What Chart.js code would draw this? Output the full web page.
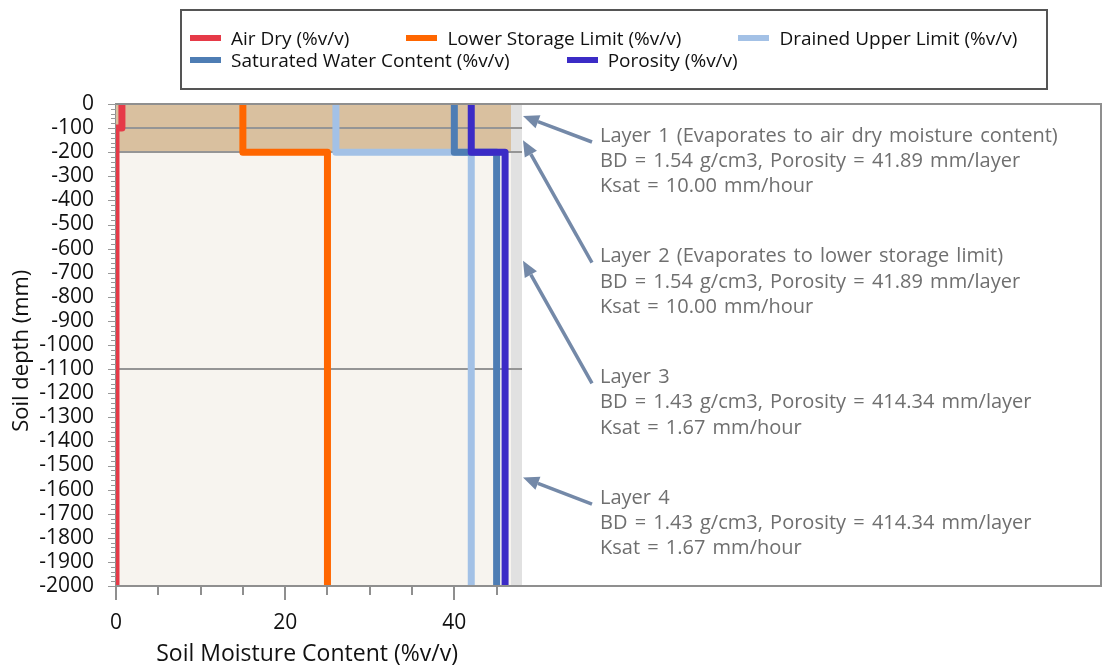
<!DOCTYPE html>
<html><head><meta charset="utf-8">
<script src="https://cdn.jsdelivr.net/npm/chart.js@4"></script>
<style>
html,body{margin:0;padding:0;background:#fff;}
#wrap{position:relative;width:1106px;height:669px;overflow:hidden;}
#c{position:absolute;left:0;top:0;}
#legend{position:absolute;left:180px;top:9px;width:856px;height:61px;border:2px solid #555;
  font-family:'Open Sans',sans-serif;font-size:19px;color:#111;display:flex;flex-wrap:wrap;
  align-content:flex-start;column-gap:57px;padding:16px 0 0 8px;box-sizing:content-box;}
.item{display:flex;align-items:center;height:22px;white-space:nowrap;}
.sw{width:31px;height:6px;margin-right:10px;}
</style></head>
<body><div id="wrap"><canvas id="c" width="1106" height="669"></canvas><div id="legend"></div></div>
<script>
// ---- data ----
const depthBounds = [0, -100, -200, -1100, -2000];           // layer boundaries (mm)
const seriesNames = ['Air Dry (%v/v)', 'Lower Storage Limit (%v/v)', 'Drained Upper Limit (%v/v)',
                     'Saturated Water Content (%v/v)', 'Porosity (%v/v)'];
const airDry       = [0.7, 0, 0, 0];
const lowerStorage = [15, 15, 25, 25];
const drainedUpper = [26, 26, 42, 42];
const saturated    = [40, 40, 45, 45];
const porosity     = [42, 42, 46, 46];
const yTickValues  = [0,-100,-200,-300,-400,-500,-600,-700,-800,-900,-1000,-1100,-1200,-1300,-1400,-1500,-1600,-1700,-1800,-1900,-2000];
const xTickLabels  = [0, 20, 40];
const layerNames   = ['Layer 1 (Evaporates to air dry moisture content)', 'Layer 2 (Evaporates to lower storage limit)', 'Layer 3', 'Layer 4'];
const layerBD      = ['1.54', '1.54', '1.43', '1.43'];
const layerPorosity= ['41.89', '41.89', '414.34', '414.34'];
const layerKsat    = ['10.00', '10.00', '1.67', '1.67'];
const layerEvap    = [true, true, false, false];
const profileFillMax = 46.7;  // extent of profile shading (%v/v)
const axisMaxX = 48;

// ---- styles ----
const colors = ['#e63a48', '#ff6600', '#a3c1e6', '#4e7db4', '#3b2bc6'];
const FONT = "'Open Sans', sans-serif";

function stepPoints(vals) {
  const pts = [];
  for (let i = 0; i < vals.length; i++) {
    pts.push({x: vals[i], y: depthBounds[i]});
    pts.push({x: vals[i], y: depthBounds[i + 1]});
  }
  return pts;
}
const seriesValues = [airDry, lowerStorage, drainedUpper, saturated, porosity];

// legend (HTML)
const lg = document.getElementById('legend');
seriesNames.forEach((n, i) => {
  const it = document.createElement('div'); it.className = 'item';
  const sw = document.createElement('div'); sw.className = 'sw'; sw.style.background = colors[i];
  const tx = document.createElement('span'); tx.textContent = n;
  it.appendChild(sw); it.appendChild(tx); lg.appendChild(it);
});

const bgPlugin = {
  id: 'bg',
  beforeDatasetsDraw(chart) {
    const {ctx, scales: {x, y}} = chart;
    ctx.save();
    for (let i = 0; i < depthBounds.length - 1; i++) {
      const y0 = y.getPixelForValue(depthBounds[i]), y1 = y.getPixelForValue(depthBounds[i + 1]);
      ctx.fillStyle = layerEvap[i] ? '#d9c09f' : '#f7f4ef';
      ctx.fillRect(x.getPixelForValue(0), y0, x.getPixelForValue(profileFillMax) - x.getPixelForValue(0), y1 - y0);
    }
    ctx.fillStyle = '#e1e1e1';
    const yt = y.getPixelForValue(depthBounds[0]), yb = y.getPixelForValue(depthBounds[depthBounds.length - 1]);
    ctx.fillRect(x.getPixelForValue(profileFillMax), yt, x.getPixelForValue(axisMaxX) - x.getPixelForValue(profileFillMax), yb - yt);
    ctx.strokeStyle = '#959595'; ctx.lineWidth = 2;
    depthBounds.forEach(d => {
      const py = Math.round(y.getPixelForValue(d));
      ctx.beginPath(); ctx.moveTo(x.getPixelForValue(0), py); ctx.lineTo(x.getPixelForValue(axisMaxX), py); ctx.stroke();
    });
    ctx.restore();
  },
  afterDraw(chart) {
    const {ctx, chartArea: ca, scales: {x, y}} = chart;
    const W = chart.width;
    ctx.save();
    // frame
    ctx.strokeStyle = '#8f8f8f'; ctx.lineWidth = 2;
    ctx.beginPath();
    ctx.moveTo(ca.left, ca.top); ctx.lineTo(W - 5, ca.top); ctx.lineTo(W - 5, ca.bottom); ctx.lineTo(ca.left, ca.bottom);
    ctx.stroke();
    // y ticks
    ctx.strokeStyle = '#999'; ctx.lineWidth = 1;
    for (let v = 0; v >= -2000; v -= 20) {
      const py = Math.round(y.getPixelForValue(v)) + 0.5;
      const len = (v % 100 === 0) ? 8 : 5;
      ctx.beginPath(); ctx.moveTo(ca.left - len, py); ctx.lineTo(ca.left, py); ctx.stroke();
    }
    // x ticks
    ctx.strokeStyle = '#8f8f8f'; ctx.lineWidth = 2;
    for (let v = 0; v <= 45; v += 5) {
      const px = Math.round(x.getPixelForValue(v));
      const len = (v % 20 === 0) ? 14 : 9;
      ctx.beginPath(); ctx.moveTo(px, ca.bottom); ctx.lineTo(px, ca.bottom + len); ctx.stroke();
    }
    // annotations
    const tipX = x.getPixelForValue(axisMaxX) + 1;
    const textX = ca.right + 78;
    ctx.font = "20px " + FONT; ctx.textBaseline = 'middle'; ctx.textAlign = 'left';
    try { ctx.wordSpacing = '2px'; } catch (e) {}
    for (let i = 0; i < layerNames.length; i++) {
      const ty = ca.top + 32 + i * 120.7;
      ctx.fillStyle = '#6f6f6f';
      ctx.fillText(layerNames[i], textX, ty);
      ctx.fillText('BD = ' + layerBD[i] + ' g/cm3, Porosity = ' + layerPorosity[i] + ' mm/layer', textX, ty + 25.3);
      ctx.fillText('Ksat = ' + layerKsat[i] + ' mm/hour', textX, ty + 50.6);
      const tipY = y.getPixelForValue((depthBounds[i] + depthBounds[i + 1]) / 2);
      const sx = textX - 8, sy = ty + 6;
      const ang = Math.atan2(tipY - sy, tipX - sx);
      const hl = 16, hw = 7;
      const bx = tipX - hl * Math.cos(ang), by = tipY - hl * Math.sin(ang);
      ctx.strokeStyle = '#7489a8'; ctx.fillStyle = '#7489a8'; ctx.lineWidth = 3.5;
      ctx.beginPath(); ctx.moveTo(sx, sy); ctx.lineTo(bx, by); ctx.stroke();
      ctx.beginPath();
      ctx.moveTo(tipX, tipY);
      ctx.lineTo(bx + hw * Math.sin(ang), by - hw * Math.cos(ang));
      ctx.lineTo(bx - hw * Math.sin(ang), by + hw * Math.cos(ang));
      ctx.closePath(); ctx.fill();
    }
    ctx.restore();
  }
};

new Chart(document.getElementById('c'), {
  type: 'line',
  data: {
    datasets: seriesNames.map((n, i) => ({
      label: n,
      data: stepPoints(seriesValues[i]),
      borderColor: colors[i],
      backgroundColor: colors[i],
      borderWidth: 7,
      borderJoinStyle: 'round',
      pointRadius: 0,
      fill: false,
      order: seriesNames.length - i,
      clip: {left: 0, top: 0, right: 6, bottom: 0}
    }))
  },
  options: {
    responsive: false,
    animation: false,
    devicePixelRatio: 1,
    layout: {padding: {left: 0, top: 104, right: 584, bottom: 0}},
    plugins: {legend: {display: false}, tooltip: {enabled: false}},
    scales: {
      x: {
        type: 'linear', min: 0, max: axisMaxX,
        afterFit(s) { s.height = 83; },
        afterBuildTicks(s) { s.ticks = xTickLabels.map(v => ({value: v})); },
        ticks: {padding: 24, color: '#111', font: {family: FONT, size: 21}, callback: v => String(v), maxRotation: 0, autoSkip: false},
        grid: {display: false, drawTicks: false},
        border: {display: true, color: '#8f8f8f', width: 2},
        title: {display: true, text: 'Soil Moisture Content (%v/v)\u00a0\u00a0\u00a0\u00a0', color: '#111', font: {family: FONT, size: 23}, padding: {top: 4, bottom: 1}}
      },
      y: {
        type: 'linear', min: -2000, max: 0,
        afterFit(s) { s.width = 116; },
        afterBuildTicks(s) { s.ticks = yTickValues.map(v => ({value: v})); },
        ticks: {padding: 22, color: '#111', font: {family: FONT, size: 21}, callback: v => String(v), autoSkip: false},
        grid: {display: false, drawTicks: false},
        border: {display: true, color: '#8f8f8f', width: 2},
        title: {display: true, text: 'Soil depth (mm)\u00a0\u00a0', color: '#111', font: {family: FONT, size: 22}, padding: {top: 9, bottom: 0}}
      }
    }
  },
  plugins: [bgPlugin]
});
</script></body></html>
